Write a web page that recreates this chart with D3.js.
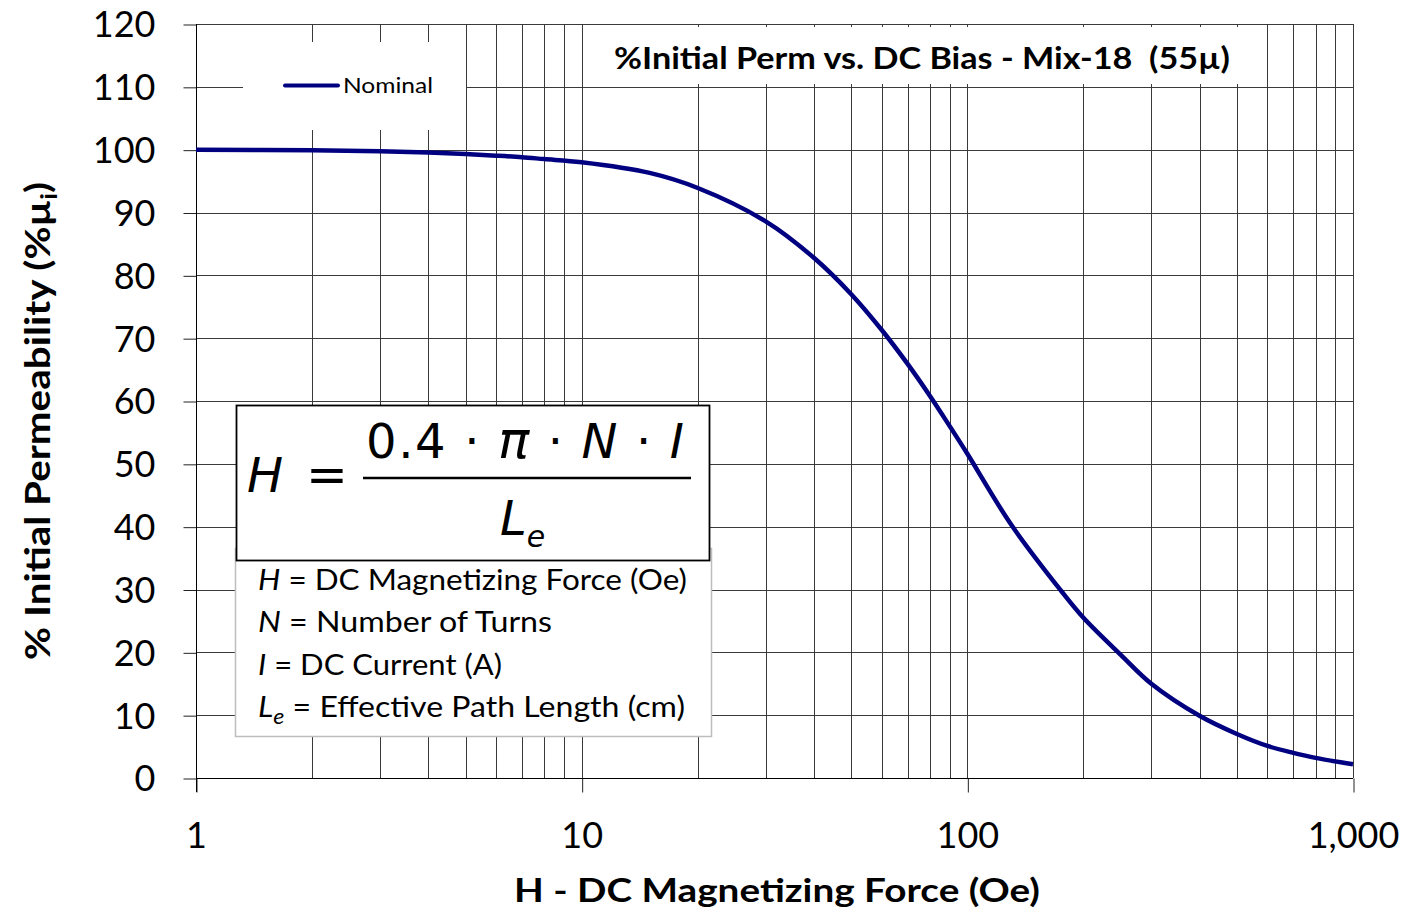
<!DOCTYPE html>
<html>
<head>
<meta charset="utf-8">
<script src="https://cdn.jsdelivr.net/npm/d3@7/dist/d3.min.js"></script>
<style>
  html, body { margin: 0; padding: 0; background: #fff; }
  svg { display: block; font-family: Lato, "Open Sans", sans-serif; }
</style>
</head>
<body>
<svg id="chart" width="1426" height="917"></svg>
<script>
// ---- data ----
const fieldOe = [1, 2, 3, 4, 5, 6, 7, 8, 10, 15, 20, 30, 40, 50, 60, 70, 80, 90, 100, 130, 175, 200, 250, 300, 400, 500, 600, 700, 800, 1000];
const permPct = [100, 99.9, 99.75, 99.55, 99.3, 99.05, 98.8, 98.5, 98.0, 96.3, 93.9, 88.6, 82.8, 77.0, 71.3, 65.9, 60.8, 56.0, 51.6, 40.3, 29.8, 25.5, 19.6, 15.0, 9.9, 7.0, 5.1, 4.0, 3.2, 2.2];
const xTickValues = [1, 10, 100, 1000];
const yTickValues = [0, 10, 20, 30, 40, 50, 60, 70, 80, 90, 100, 110, 120];
const seriesName = "Nominal";
const chartTitle = "%Initial Perm vs. DC Bias - Mix-18  (55\u00b5)";
const xTitle = "H - DC Magnetizing Force (Oe)";
const legendLines = [
  [["H", true], [" = DC Magnetizing Force (Oe)", false]],
  [["N", true], [" = Number of Turns", false]],
  [["I", true], [" = DC Current (A)", false]],
  [["L", true], ["e", true, true], [" = Effective Path Length (cm)", false]]
];

// ---- layout ----
const svg = d3.select("#chart");
const x = d3.scaleLog().domain([1, 1000]).range([196, 1353]);
const y = d3.scaleLinear().domain([0, 120]).range([778, 24]);

// grid
const grid = svg.append("g");
grid.selectAll("line.v").data(x.ticks()).join("line")
  .attr("x1", d => Math.round(x(d)) + 0.5).attr("x2", d => Math.round(x(d)) + 0.5)
  .attr("y1", y(120)).attr("y2", y(0))
  .attr("stroke", "#3a3a3a").attr("stroke-width", 1);
grid.selectAll("line.h").data(yTickValues).join("line")
  .attr("x1", x(1)).attr("x2", x(1000))
  .attr("y1", d => Math.round(y(d)) + 0.5).attr("y2", d => Math.round(y(d)) + 0.5)
  .attr("stroke", "#3a3a3a").attr("stroke-width", 1);

// axes
const yAxis = svg.append("g").attr("transform", `translate(${x(1) + 0.5},0)`)
  .call(d3.axisLeft(y).tickValues(yTickValues).tickSize(13).tickPadding(28));
yAxis.select(".domain").remove();
yAxis.selectAll(".tick line").attr("stroke", "#222").attr("transform", "translate(0,0.5)");
yAxis.selectAll("text").attr("font-size", 36).attr("fill", "#000").attr("font-family", "Lato").attr("dy", "0.36em");

const xAxis = svg.append("g").attr("transform", `translate(0,${y(0) + 0.5})`)
  .call(d3.axisBottom(x).tickValues(xTickValues).tickFormat(d3.format(",")).tickSize(14).tickPadding(30));
xAxis.select(".domain").remove();
xAxis.selectAll(".tick line").attr("stroke", "#222").attr("transform", "translate(0.5,0)");
xAxis.selectAll("text").attr("font-size", 36).attr("fill", "#000").attr("font-family", "Lato");

// axis lines
svg.append("line").attr("x1", x(1) + 0.5).attr("x2", x(1) + 0.5)
  .attr("y1", y(120)).attr("y2", y(0) + 14).attr("stroke", "#000");
svg.append("line").attr("x1", x(1)).attr("x2", x(1000))
  .attr("y1", y(0) + 0.5).attr("y2", y(0) + 0.5).attr("stroke", "#000");

// title background + title
svg.append("rect").attr("x", 590).attr("y", 27).attr("width", 662).attr("height", 57).attr("fill", "#fff");
svg.append("text").attr("x", 922).attr("y", 69).attr("text-anchor", "middle")
  .attr("font-size", 30).attr("font-weight", "bold").attr("font-family", "Lato")
  .attr("style", "white-space: pre").attr("xml:space", "preserve")
  .attr("textLength", 616).attr("lengthAdjust", "spacingAndGlyphs")
  .text(chartTitle);

// legend
svg.append("rect").attr("x", 243).attr("y", 42).attr("width", 223).attr("height", 88).attr("fill", "#fff");
svg.append("line").attr("x1", 285).attr("x2", 338).attr("y1", 85.5).attr("y2", 85.5)
  .attr("stroke", "#000080").attr("stroke-width", 4).attr("stroke-linecap", "round");
svg.append("text").attr("x", 343).attr("y", 93).attr("font-size", 22).attr("font-family", "Lato")
  .attr("textLength", 90).attr("lengthAdjust", "spacingAndGlyphs").text(seriesName);

// curve
const pts = fieldOe.map((h, i) => [h, permPct[i]]);
svg.append("path").datum(pts)
  .attr("d", d3.line().x(d => x(d[0])).y(d => y(d[1])).curve(d3.curveCatmullRom.alpha(0.5)))
  .attr("fill", "none").attr("stroke", "#000080").attr("stroke-width", 4.5);

// formula: definitions box
svg.append("rect").attr("x", 235.5).attr("y", 548.5).attr("width", 476).attr("height", 188)
  .attr("fill", "#fff").attr("stroke", "#bdbdbd").attr("stroke-width", 1.5);
const baselines = [590, 632, 675, 717];
const lineWidths = [429, 294, 244, 427];
legendLines.forEach((parts, i) => {
  const t = svg.append("text").attr("x", 258).attr("y", baselines[i]).attr("font-size", 29).attr("font-family", "Lato")
    .attr("textLength", lineWidths[i]).attr("lengthAdjust", "spacingAndGlyphs");
  parts.forEach(p => {
    const ts = t.append("tspan").text(p[0]);
    if (p[1]) ts.attr("font-style", "italic");
    if (p[2]) ts.attr("dy", 7).attr("font-size", 21);
    else if (i === 3 && p[0].startsWith(" =")) ts.attr("dy", -7);
  });
});
// formula box
svg.append("rect").attr("x", 236.5).attr("y", 405.5).attr("width", 473).attr("height", 155)
  .attr("fill", "#fff").attr("stroke", "#000").attr("stroke-width", 1.8);
svg.append("text").attr("x", 247).attr("y", 492).attr("font-size", 48).attr("font-style", "italic")
  .attr("font-family", "'DejaVu Sans', sans-serif").text("H");
svg.append("text").attr("x", 306).attr("y", 492).attr("font-size", 50)
  .attr("font-family", "'DejaVu Sans', sans-serif").text("=");
svg.append("line").attr("x1", 363).attr("x2", 691).attr("y1", 478).attr("y2", 478)
  .attr("stroke", "#000").attr("stroke-width", 2.5);
const num = svg.append("text").attr("x", 366).attr("y", 458).attr("font-size", 48)
  .attr("font-family", "'DejaVu Sans', sans-serif").attr("textLength", 318).attr("lengthAdjust", "spacing");
num.append("tspan").text("0.4 \u00b7 ");
num.append("tspan").attr("font-style", "italic").attr("font-size", 52).text("\u03c0");
num.append("tspan").text(" \u00b7 ");
num.append("tspan").attr("font-style", "italic").text("N");
num.append("tspan").text(" \u00b7 ");
num.append("tspan").attr("font-style", "italic").text("I");
const den = svg.append("text").attr("x", 500).attr("y", 535).attr("font-size", 48)
  .attr("font-family", "'DejaVu Sans', sans-serif").attr("font-style", "italic");
den.append("tspan").text("L");
den.append("tspan").attr("font-size", 30).attr("dy", 12).text("e");

// axis titles
svg.append("text").attr("x", 777).attr("y", 902).attr("text-anchor", "middle")
  .attr("font-size", 32).attr("font-weight", "bold").attr("font-family", "Lato")
  .attr("textLength", 526).attr("lengthAdjust", "spacingAndGlyphs").text(xTitle);
const yt = svg.append("text").attr("transform", "translate(50,421) rotate(-90)")
  .attr("text-anchor", "middle").attr("font-size", 34).attr("font-weight", "bold").attr("font-family", "Lato")
  .attr("textLength", 478).attr("lengthAdjust", "spacingAndGlyphs");
yt.append("tspan").text("% Initial Permeability (%\u00b5");
yt.append("tspan").attr("font-size", 22).attr("dy", 7).text("i");
yt.append("tspan").attr("dy", -7).text(")");
</script>
</body>
</html>
